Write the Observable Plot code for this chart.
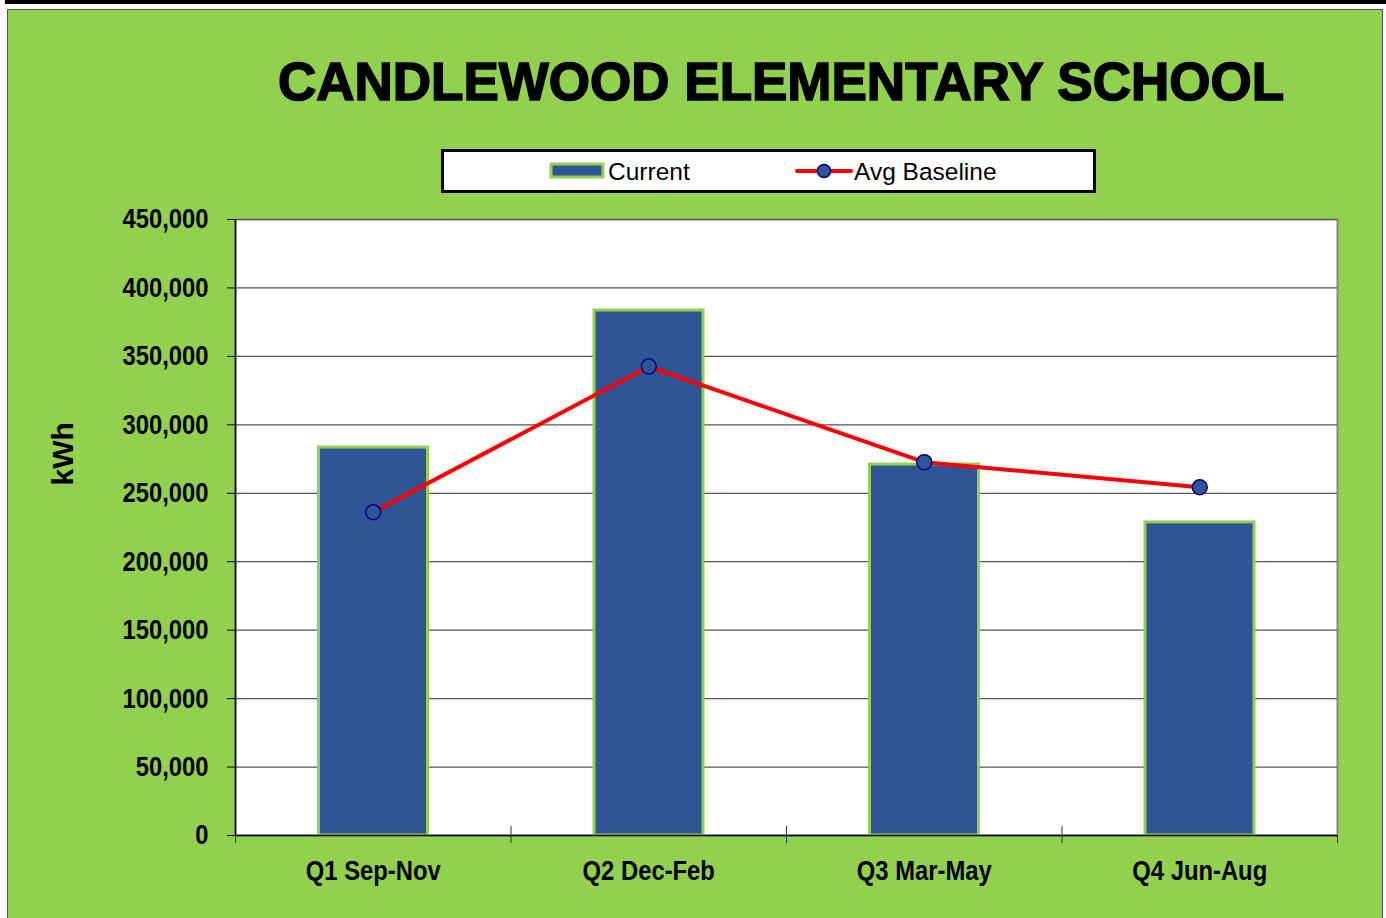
<!DOCTYPE html>
<html>
<head>
<meta charset="utf-8">
<script src="https://cdn.jsdelivr.net/npm/d3@7"></script>
<script src="https://cdn.jsdelivr.net/npm/@observablehq/plot@0.6"></script>
<style>
  html, body { margin: 0; padding: 0; background: #ffffff; }
  #wrap { position: relative; width: 1386px; height: 918px; overflow: hidden; }
  #topbar { position: absolute; left: 5px; top: 0; width: 1381px; height: 4px; background: #000; }
  #panel { position: absolute; left: 7px; top: 9px; width: 1374px; height: 920px; background: #92D050; border: 1px solid #555; }
  #chart { position: absolute; left: 0; top: 0; }
  #title { position: absolute; left: 0; width: 1562px; top: 50px; text-align: center;
    font-family: "Liberation Sans", Arial, sans-serif; font-weight: bold; font-size: 53px;
    color: #000; -webkit-text-stroke: 1.6px #000; letter-spacing: 0px; line-height: 64px; white-space: nowrap; }
  #legend { position: absolute; left: 441px; top: 149px; width: 649px; height: 38px; background: #fff; border: 3px solid #000; }
  .lg { position: absolute; font-family: "Liberation Sans", Arial, sans-serif; font-size: 24.5px; color: #000; line-height: 24px; top: 8px; }
  .sw { position: absolute; }
</style>
</head>
<body>
<div id="wrap">
  <div id="topbar"></div>
  <div id="panel"></div>
  <div id="title"></div>
  <div id="legend"></div>
  <div id="chart"></div>
</div>
<script>
// ---- data ----
const categories = ["Q1 Sep-Nov", "Q2 Dec-Feb", "Q3 Mar-May", "Q4 Jun-Aug"];
const currentValues = [283400, 383500, 271000, 228700];
const baselineValues = [236200, 342600, 272700, 254400];
const yTicks = [0, 50000, 100000, 150000, 200000, 250000, 300000, 350000, 400000, 450000];
const seriesNames = ["Current", "Avg Baseline"];
const titleText = "CANDLEWOOD ELEMENTARY SCHOOL";
const yLabel = "kWh";

const barFill = "#2F5597", barStroke = "#92D050", lineColor = "#FF0000", dotStroke = "#000080";

const data = categories.map((c, i) => ({ i, category: c, current: currentValues[i], baseline: baselineValues[i] }));

document.getElementById("title").textContent = titleText;

// legend
const legend = document.getElementById("legend");
legend.innerHTML = `
  <svg class="sw" style="left:105px;top:10px" width="56" height="18">
    <rect x="2" y="2" width="52" height="13" fill="${barFill}" stroke="${barStroke}" stroke-width="3"/>
  </svg>
  <div class="lg" style="left:164px">${seriesNames[0]}</div>
  <svg class="sw" style="left:351px;top:10px" width="58" height="18">
    <line x1="2" y1="9" x2="56" y2="9" stroke="${lineColor}" stroke-width="4" stroke-linecap="round"/>
    <circle cx="29" cy="9" r="6.5" fill="${barFill}" stroke="${dotStroke}" stroke-width="1.5"/>
  </svg>
  <div class="lg" style="left:410px">${seriesNames[1]}</div>`;

const plot = Plot.plot({
  width: 1386,
  height: 918,
  marginLeft: 235,
  marginRight: 49,
  marginTop: 219,
  marginBottom: 83,
  x: { domain: [0, categories.length] },
  y: { domain: [0, 450000] },
  style: {
    background: "transparent",
    fontFamily: "'Liberation Sans', Arial, sans-serif",
    fontWeight: "bold",
    fontSize: "28px",
    color: "#000",
    overflow: "visible"
  },
  marks: [
    Plot.frame({ fill: "#fff", stroke: "#888", strokeWidth: 2 }),
    Plot.gridY(yTicks, { stroke: "#555", strokeOpacity: 1, strokeWidth: 1.2 }),
    Plot.rect(data, {
      x1: d => d.i, x2: d => d.i + 1, y1: 0, y2: "current",
      insetLeft: 83.5, insetRight: 83,
      fill: barFill, stroke: barStroke, strokeWidth: 3
    }),
    Plot.ruleY([0], { stroke: "#000", strokeWidth: 1.5 }),
    Plot.ruleX([0], { stroke: "#000", strokeWidth: 1.5 }),
    Plot.axisY(yTicks, {
      tickSize: 8, tickPadding: 19, tickFormat: d3.format(","),
      fontSize: 28, fontWeight: "bold", stroke: "#000", label: null
    }),
    Plot.axisX(d3.range(categories.length + 1), {
      tickSize: 8, tickFormat: () => "", label: null, stroke: "#333"
    }),
    Plot.axisX(d3.range(1, categories.length), {
      tickSize: -9, tickFormat: () => "", label: null, stroke: "#333"
    }),
    Plot.axisX(data.map(d => d.i + 0.5), {
      tickSize: 0, tickPadding: 25, tickFormat: d => categories[Math.floor(d)],
      fontSize: 28, fontWeight: "bold", label: null
    }),
    Plot.line(data, { x: d => d.i + 0.5, y: "baseline", stroke: lineColor, strokeWidth: 4 }),
    Plot.dot(data, { x: d => d.i + 0.5, y: "baseline", r: 7.5, fill: barFill, stroke: dotStroke, strokeWidth: 1.5 }),
    Plot.text([yLabel], {
      text: d => d, frameAnchor: "left", dx: -172, dy: -42, rotate: -90,
      fontSize: 30, fontWeight: "bold", fontFamily: "'Liberation Sans', Arial, sans-serif"
    })
  ]
});
document.getElementById("chart").appendChild(plot);

// condense tick labels (narrow bold look)
plot.querySelectorAll('g[aria-label="y-axis tick label"] text, g[aria-label="x-axis tick label"] text').forEach(t => {
  const len = t.getComputedTextLength();
  if (len > 0) {
    t.setAttribute("textLength", (len * 0.85).toFixed(1));
    t.setAttribute("lengthAdjust", "spacingAndGlyphs");
  }
});
</script>
</body>
</html>
